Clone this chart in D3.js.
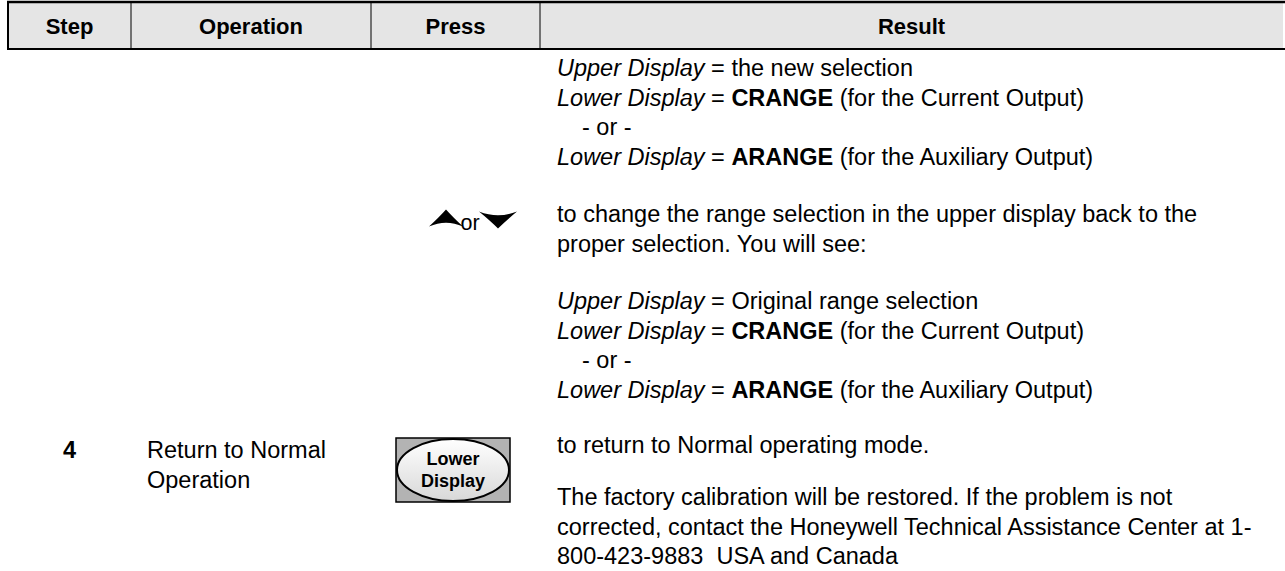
<!DOCTYPE html>
<html><head><meta charset="utf-8">
<script src="https://cdn.jsdelivr.net/npm/d3@7"></script>
<style>html,body{margin:0;padding:0;background:#fff;}svg{display:block;}</style>
</head><body>
<svg id="c" width="1285" height="571"></svg>
<script>
// ---- data ----
const headers = ["Step", "Operation", "Press", "Result"];
const stepNumbers = ["4"];
const operationLines = ["Return to Normal", "Operation"];
const pressArrowLabel = ["or"];
const buttonLabels = ["Lower", "Display"];
const resultBlock1 = [
  "*Upper Display* = the new selection",
  "*Lower Display* = **CRANGE** (for the Current Output)",
  "- or -",
  "*Lower Display* = **ARANGE** (for the Auxiliary Output)"
];
const resultBlock2 = [
  "to change the range selection in the upper display back to the",
  "proper selection. You will see:"
];
const resultBlock3 = [
  "*Upper Display* = Original range selection",
  "*Lower Display* = **CRANGE** (for the Current Output)",
  "- or -",
  "*Lower Display* = **ARANGE** (for the Auxiliary Output)"
];
const resultBlock4 = ["to return to Normal operating mode."];
const resultBlock5 = [
  "The factory calibration will be restored. If the problem is not",
  "corrected, contact the Honeywell Technical Assistance Center at 1-",
  "800-423-9883  USA and Canada"
];

// ---- layout ----
const W = 1285, H = 571;
const FONT = "'Liberation Sans', Arial, Helvetica, sans-serif";
const bodySize = 23.5, headSize = 22, lineH = 29.5;
const colEdges = [8, 131, 371, 540, 1283];
const headTop = 2, headBot = 49;
const svg = d3.select("#c");

const colX = d3.scaleOrdinal().domain(headers).range(headers.map((h,i)=>(colEdges[i]+colEdges[i+1])/2));

// header
svg.append("rect").attr("x", colEdges[0]).attr("y", headTop).attr("width", colEdges[4]-colEdges[0]).attr("height", headBot-headTop).attr("fill", "#e5e5e5");
svg.append("line").attr("x1", colEdges[0]-1).attr("x2", W).attr("y1", headTop).attr("y2", headTop).attr("stroke", "#000").attr("stroke-width", 2.5);
svg.append("line").attr("x1", colEdges[0]-1).attr("x2", W).attr("y1", headBot).attr("y2", headBot).attr("stroke", "#000").attr("stroke-width", 2);
svg.selectAll("line.sep").data(colEdges.slice(0,4)).enter().append("line").attr("class","sep")
  .attr("x1", d=>d).attr("x2", d=>d).attr("y1", headTop).attr("y2", headBot)
  .attr("stroke", "#000").attr("stroke-width", d=>d===colEdges[0]?2:1);
svg.selectAll("text.hd").data(headers).enter().append("text").attr("class","hd")
  .attr("x", d=>colX(d)).attr("y", (headTop+headBot)/2+1).attr("text-anchor","middle").attr("dominant-baseline","central")
  .attr("font-family", FONT).attr("font-weight","bold").attr("font-size", headSize).text(d=>d);

// rich text lines
function parse(s){
  const out=[]; const re=/(\*\*[^*]+\*\*|\*[^*]+\*)/g; let last=0, m;
  while((m=re.exec(s))){ if(m.index>last) out.push({t:s.slice(last,m.index)});
    if(m[0].startsWith("**")) out.push({t:m[0].slice(2,-2), b:true}); else out.push({t:m[0].slice(1,-1), i:true});
    last=re.lastIndex; }
  if(last<s.length) out.push({t:s.slice(last)});
  return out;
}
const resultX = 557;
const blocks = [
  {lines: resultBlock1, y0: 68},
  {lines: resultBlock2, y0: 214},
  {lines: resultBlock3, y0: 301},
  {lines: resultBlock4, y0: 445},
  {lines: resultBlock5, y0: 497}
];
blocks.forEach(b=>{
  b.lines.forEach((ln,k)=>{
    const t = svg.append("text").attr("x", resultX + (ln.startsWith("- or") ? 25 : 0)).attr("y", b.y0 + k*lineH)
      .attr("dominant-baseline","central").attr("font-family", FONT).attr("font-size", bodySize).style("white-space","pre");
    parse(ln).forEach(sg=>{
      t.append("tspan").attr("font-style", sg.i?"italic":null).attr("font-weight", sg.b?"bold":null).text(sg.t);
    });
  });
});

// step & operation
svg.selectAll("text.step").data(stepNumbers).enter().append("text").attr("class","step")
  .attr("x", colX("Step")).attr("y", 450).attr("text-anchor","middle").attr("dominant-baseline","central")
  .attr("font-family", FONT).attr("font-weight","bold").attr("font-size", bodySize).text(d=>d);
svg.selectAll("text.op").data(operationLines).enter().append("text").attr("class","op")
  .attr("x", 147).attr("y", (d,i)=>450+i*lineH).attr("dominant-baseline","central")
  .attr("font-family", FONT).attr("font-size", bodySize).text(d=>d);

// arrows
const ay = 220;
function arrow(cx, cy, w, h, up){
  const s = up ? -1 : 1;
  const p = d3.path();
  p.moveTo(cx - w/2, cy - s*h/2);
  p.quadraticCurveTo(cx, cy - s*h*0.05, cx + w/2, cy - s*h/2);
  p.quadraticCurveTo(cx + w*0.2, cy + s*h*0.05, cx, cy + s*h/2);
  p.quadraticCurveTo(cx - w*0.2, cy + s*h*0.05, cx - w/2, cy - s*h/2);
  p.closePath();
  return p.toString();
}
svg.append("path").attr("d", arrow(446, ay-2, 34, 17, true)).attr("fill","#000");
svg.append("path").attr("d", arrow(498, ay, 38, 17, false)).attr("fill","#000");
svg.selectAll("text.or").data(pressArrowLabel).enter().append("text").attr("class","or")
  .attr("x", 470).attr("y", ay+3).attr("text-anchor","middle").attr("dominant-baseline","central")
  .attr("font-family", FONT).attr("font-size", bodySize-2).text(d=>d);

// button
const defs = svg.append("defs");
const g = defs.append("linearGradient").attr("id","bg").attr("x1",0).attr("y1",0).attr("x2",0).attr("y2",1);
g.append("stop").attr("offset","0%").attr("stop-color","#ffffff");
g.append("stop").attr("offset","100%").attr("stop-color","#d8d8d8");
const bx = 396, by = 438, bw = 114, bh = 64;
svg.append("rect").attr("x",bx).attr("y",by).attr("width",bw).attr("height",bh).attr("fill","#b3b3b3").attr("stroke","#000").attr("stroke-width",1.5);
svg.append("ellipse").attr("cx",bx+bw/2).attr("cy",by+bh/2).attr("rx",bw/2-1).attr("ry",bh/2-1).attr("fill","url(#bg)").attr("stroke","#000").attr("stroke-width",2);
svg.selectAll("text.btn").data(buttonLabels).enter().append("text").attr("class","btn")
  .attr("x", bx+bw/2).attr("y",(d,i)=>by+bh/2-11+i*22).attr("text-anchor","middle").attr("dominant-baseline","central")
  .attr("font-family", FONT).attr("font-weight","bold").attr("font-size", 18).text(d=>d);
</script>
</body></html>
